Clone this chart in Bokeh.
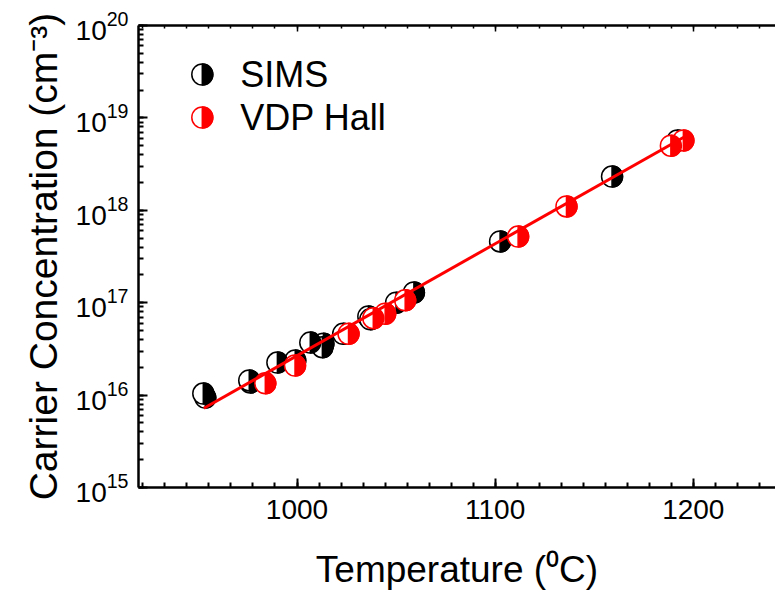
import math
from bokeh.plotting import figure
from bokeh.models import Range1d, LinearAxis, SingleIntervalTicker, LogTicker, Label, CustomJSTickFormatter
from bokeh.embed import file_html
from bokeh.resources import INLINE

# ---- data ----
series_names = ["SIMS", "VDP Hall"]
sims_T = [953.7, 952.7, 976.4, 975.9, 990.1, 999.1, 1006.7, 1013.3, 1012.8, 1023.3, 1036.0, 1037.0, 1050.0, 1059.0, 1102.5, 1159.0, 1192.0]
sims_N = [9.4e15, 1.04e16, 1.37e16, 1.44e16, 2.25e16, 2.37e16, 3.7e16, 3.6e16, 3.3e16, 4.6e16, 7.1e16, 6.6e16, 1.0e17, 1.29e17, 4.6e17, 2.32e18, 5.7e18]
hall_T = [984.0, 999.0, 1026.0, 1038.5, 1044.5, 1054.6, 1111.6, 1136.0, 1188.7, 1195.0]
hall_N = [1.34e16, 2.09e16, 4.6e16, 6.8e16, 7.6e16, 1.06e17, 5.2e17, 1.1e18, 5.0e18, 5.7e18]
fit_T = [953.0, 1197.0]
fit_N = [7.2e15, 6.5e18]
x_ticks_interval = 100
legend_T = [952.2, 952.2]
legend_N = [2.95e19, 1.01e19]

FONT = "Liberation Sans"
BLACK = "#000000"
RED = "#ff0000"

p = figure(width=775, height=599,
           x_range=Range1d(920, 1241.5), y_range=Range1d(1e15, 1e20),
           y_axis_type="log", output_backend="svg", toolbar_location=None,
           min_border_left=138, min_border_right=0, min_border_top=25, min_border_bottom=112)
p.outline_line_color = None
p.grid.visible = False
p.background_fill_color = "white"
p.border_fill_color = "white"

# x axis
xt = SingleIntervalTicker(interval=x_ticks_interval, num_minor_ticks=9)
xa = p.xaxis[0]
xa.ticker = xt
xa.axis_label = "Temperature (\u2070C)"
xa.axis_label_text_font = FONT
xa.axis_label_text_font_size = "37px"
xa.axis_label_text_font_style = "normal"
xa.axis_label_standoff = 27
xa.major_label_text_font = FONT
xa.major_label_text_font_size = "28px"
xa.major_label_standoff = 12

# y axis
ya = p.yaxis[0]
ya.ticker = LogTicker(num_minor_ticks=10)
ya.axis_label = "Carrier Concentration (cm\u207b\u00b3)"
ya.axis_label_text_font = FONT
ya.axis_label_text_font_size = "39px"
ya.axis_label_text_font_style = "normal"
ya.axis_label_standoff = 8
ya.major_label_text_font = FONT
ya.major_label_text_font_size = "28px"
ya.major_label_standoff = 10

for ax in [xa, ya]:
    ax.axis_line_width = 2.5
    ax.axis_line_color = BLACK
    ax.major_tick_in = 9
    ax.major_tick_out = 0
    ax.minor_tick_in = 5
    ax.minor_tick_out = 0
    ax.major_tick_line_width = 2
    ax.minor_tick_line_width = 2
    ax.major_label_text_color = BLACK
    ax.axis_label_text_color = BLACK

# top axis (frame line with inward ticks, no labels)
top = LinearAxis(ticker=SingleIntervalTicker(interval=x_ticks_interval, num_minor_ticks=9),
                 formatter=CustomJSTickFormatter(code="return ''"))
top.axis_line_width = 2.5
top.major_tick_in = 6
top.major_tick_out = 0
top.minor_tick_in = 3
top.minor_tick_out = 0
top.major_tick_line_width = 1.5
top.minor_tick_line_width = 1.5
top.major_label_text_font_size = "0px"
top.major_label_standoff = 0
p.add_layout(top, "above")

R = 10.5

def half_marker(xs, ys, color):
    p.circle(xs, ys, radius=R, radius_units="screen", fill_color="white",
             line_color=color, line_width=1.5)
    p.wedge(xs, ys, radius=R, radius_units="screen", start_angle=-math.pi / 2,
            end_angle=math.pi / 2, fill_color=color, line_color=color, line_width=1.5)

half_marker(sims_T, sims_N, BLACK)
half_marker(hall_T, hall_N, RED)

p.line(fit_T, fit_N, line_color=RED, line_width=3)

# legend
colors = [BLACK, RED]
for i in range(2):
    half_marker([legend_T[i]], [legend_N[i]], colors[i])
    p.add_layout(Label(x=971.4, y=legend_N[i], text=series_names[i], text_font=FONT,
                       text_font_size="36px", text_baseline="middle", text_color=BLACK))

open("out.html", "w").write(file_html(p, INLINE))
